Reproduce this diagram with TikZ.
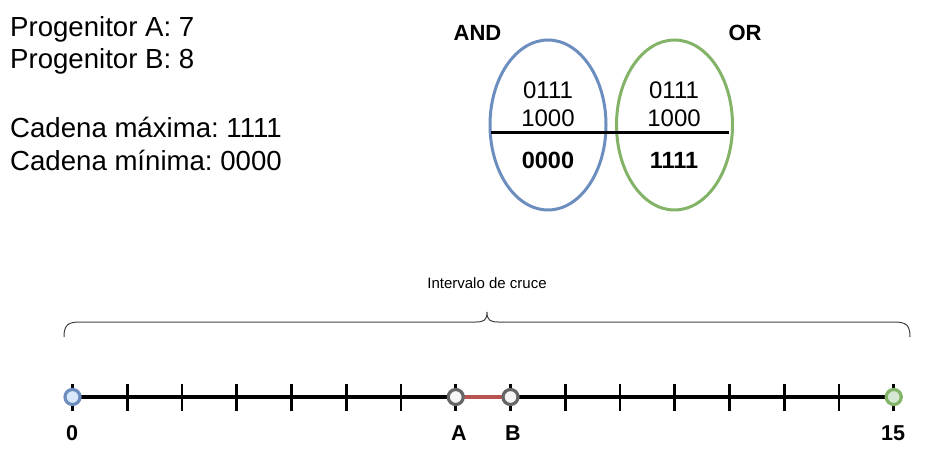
\documentclass[tikz,border=0pt]{standalone}
\usepackage{fontspec}
\setmainfont{Liberation Sans}
\usetikzlibrary{shapes.geometric}
\definecolor{bluestroke}{HTML}{6C8EBF}
\definecolor{bluefill}{HTML}{DAE8FC}
\definecolor{greenstroke}{HTML}{82B366}
\definecolor{greenfill}{HTML}{D5E8D4}
\definecolor{redline}{HTML}{B85450}
\definecolor{graystroke}{HTML}{666666}
\definecolor{grayfill}{HTML}{F5F5F5}
\frenchspacing
\begin{document}
\begin{tikzpicture}[x=1pt,y=-1pt,
  infotext/.style={anchor=base west,inner sep=0pt,font=\fontsize{27.6}{32}\selectfont},
  optitle/.style={inner sep=0pt,font=\fontsize{22}{26}\selectfont\bfseries},
  bits/.style={inner sep=0pt,font=\fontsize{24}{28}\selectfont},
  bitsbold/.style={inner sep=0pt,font=\fontsize{23.5}{27}\selectfont\bfseries},
  venn/.style={ellipse,draw,line width=3pt,minimum width=116pt,minimum height=170pt,inner sep=0pt},
  axislabel/.style={inner sep=0pt,font=\fontsize{21.5}{25}\selectfont\bfseries},
  tickmark/.style={line width=2.8pt,black},
  point/.style={circle,line width=3.2pt,minimum size=15pt,inner sep=0pt},
  axisline/.style={line width=3.4pt,black}
]
\useasboundingbox (0,0) rectangle (926,462);

% left texts
\node[infotext] (pa) at (10,37) {Progenitor A: 7};
\node[infotext] (pb) at (10,69) {Progenitor B: 8};
\node[infotext] (cmax) at (10,138) {Cadena máxima: 1111};
\node[infotext] (cmin) at (10,171) {Cadena mínima: 0000};

% Venn-like ellipses
\node[venn,draw=bluestroke] (andE) at (548,125) {};
\node[venn,draw=greenstroke] (orE) at (674.5,125) {};
\coordinate (hl) at (491,132.5);
\coordinate (hr) at (729,132.5);
\draw[line width=2.4pt] (hl) -- (hr);
\node[optitle] (andL) at (477.5,33) {AND};
\node[optitle] (orL) at (745,33) {OR};
\node[bits] (a1) at (548,90) {0111};
\node[bits] (a2) at (548,118) {1000};
\node[bitsbold] (a3) at (548,160) {0000};
\node[bits] (o1) at (674,90) {0111};
\node[bits] (o2) at (674,118) {1000};
\node[bitsbold] (o3) at (674,160) {1111};

% brace
\coordinate (bl) at (64,337);
\coordinate (br) at (910,337);
\coordinate (bt) at (487,312);
\draw[line width=1pt,black!75] (bl) .. controls (64,325) and (68,322) .. (80,322)
  -- (476,322) .. controls (484,322) and (487,320) .. (bt)
  .. controls (487,320) and (490,322) .. (498,322)
  -- (894,322) .. controls (906,322) and (910,325) .. (br);
\node[inner sep=0pt,font=\fontsize{15}{18}\selectfont] (ilabel) at (487,283) {Intervalo de cruce};

% number line
\foreach \i in {0,...,15} {
  \coordinate (p\i) at ({72.5+54.75*\i},397);
  \draw[tickmark] ([yshift=-13.5]p\i) -- ([yshift=13.5]p\i);
}
\draw[axisline] (p0) -- (p7);
\draw[axisline] (p8) -- (p15);
\draw[line width=3.2pt,redline] (p7) -- (p8);
\node[point,draw=bluestroke,fill=bluefill] (c0) at (p0) {};
\node[point,draw=graystroke,fill=grayfill] (cA) at (p7) {};
\node[point,draw=graystroke,fill=grayfill] (cB) at (p8) {};
\node[point,draw=greenstroke,fill=greenfill] (c15) at (p15) {};

\node[axislabel] (l0) at (72,433) {0};
\node[axislabel] (lA) at (459,433) {A};
\node[axislabel] (lB) at (513,433) {B};
\node[axislabel] (l15) at (893,433) {15};
\end{tikzpicture}
\end{document}
